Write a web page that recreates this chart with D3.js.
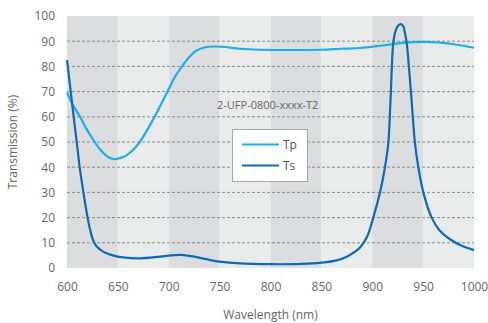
<!DOCTYPE html>
<html>
<head>
<meta charset="utf-8">
<script src="https://cdn.jsdelivr.net/npm/d3@7"></script>
<style>
  html, body { margin: 0; padding: 0; background: #fff; }
  svg { display: block; font-family: "Open Sans", sans-serif; }
</style>
</head>
<body>
<svg id="chart" width="488" height="323"></svg>
<script>
// Wavelength (nm) and transmission (%) for the two polarisations
const tpWave = [600, 606, 612.8, 619, 625.9, 632, 638, 643, 647, 652, 658, 664, 670, 676, 682, 688, 694, 700, 706, 713, 720, 727, 735, 745, 755, 770, 790, 820, 850, 870, 888, 910, 928, 950, 965, 980, 1000];
const tpVals = [69.6, 64.6, 60, 55.3, 50.8, 47.3, 44.8, 43.5, 43.2, 43.6, 44.6, 46.5, 49.2, 52.8, 57, 61.5, 66.2, 71, 75.8, 80, 83.6, 86.2, 87.5, 87.9, 87.7, 87, 86.6, 86.5, 86.6, 87, 87.3, 88.3, 89.2, 89.7, 89.5, 88.8, 87.4];

const tsWave = [600, 606, 610, 612.8, 615, 617.5, 620, 622.5, 625, 628, 632, 637, 645, 655, 671.7, 691.4, 705, 712, 720, 731, 740, 750, 770, 800, 830, 850, 865, 875, 882, 888, 895, 901, 907.6, 912.5, 915.8, 918, 920.7, 923, 925.5, 928, 930.5, 932, 933.8, 938, 942, 945.3, 950.2, 958.4, 966, 976.4, 988, 1000];
const tsVals = [82.5, 62, 48.5, 38.9, 33, 26.5, 20.5, 15.5, 11.8, 9.2, 7.5, 6.2, 5, 4.2, 3.8, 4.5, 5.1, 5.2, 4.8, 4, 3.2, 2.5, 1.8, 1.5, 1.6, 2.1, 3, 4.5, 6.2, 8.1, 12.5, 20, 30, 40, 49.7, 67, 89.4, 94.2, 96.2, 96.8, 96, 93.5, 89.4, 70, 49.5, 40, 30, 20, 15, 11.4, 8.8, 7.1];

const xTicks = [600, 650, 700, 750, 800, 850, 900, 950, 1000];
const yTicks = [0, 10, 20, 30, 40, 50, 60, 70, 80, 90, 100];
const seriesNames = ["Tp", "Ts"];
const seriesColors = ["#1cb0ea", "#0a6bb6"];
const productLabel = "2-UFP-0800-xxxx-T2";

const svg = d3.select("#chart");
const margin = { left: 67, right: 14, top: 16, bottom: 55 };
const W = 488, H = 323;

const x = d3.scaleLinear().domain([600, 1000]).range([margin.left, W - margin.right]);
const y = d3.scaleLinear().domain([0, 100]).range([H - margin.bottom, margin.top]);

// Alternating background bands, one per 50 nm
const bands = d3.pairs(xTicks);
svg.append("g").selectAll("rect").data(bands).join("rect")
  .attr("x", d => x(d[0]))
  .attr("y", y(100))
  .attr("width", d => x(d[1]) - x(d[0]))
  .attr("height", y(0) - y(100))
  .attr("fill", (d, i) => i % 2 === 0 ? "#dcdddf" : "#eaebeb");

// Dashed horizontal gridlines
svg.append("g").selectAll("line").data(yTicks.filter(v => v > 0 && v < 100)).join("line")
  .attr("x1", x(600)).attr("x2", x(1000))
  .attr("y1", d => y(d)).attr("y2", d => y(d))
  .attr("stroke", "#8a8a8a")
  .attr("stroke-width", 1)
  .attr("stroke-dasharray", "3,2");

// Axes (labels only, no domain line or tick marks)
const yAxis = svg.append("g")
  .attr("transform", `translate(${margin.left},0)`)
  .call(d3.axisLeft(y).tickValues(yTicks).tickFormat(d3.format("d")).tickSize(0).tickPadding(12));
const xAxis = svg.append("g")
  .attr("transform", `translate(0,${y(0)})`)
  .call(d3.axisBottom(x).tickValues(xTicks).tickFormat(d3.format("d")).tickSize(0).tickPadding(14));
[yAxis, xAxis].forEach(g => {
  g.select(".domain").remove();
  g.selectAll("text")
    .attr("fill", "#666")
    .style("font-size", "12px")
    .style("font-family", "'Open Sans', sans-serif");
});

// Axis titles
svg.append("text")
  .attr("x", (x(600) + x(1000)) / 2)
  .attr("y", 319)
  .attr("text-anchor", "middle")
  .attr("fill", "#666")
  .style("font-size", "12px")
  .text("Wavelength (nm)");
svg.append("text")
  .attr("transform", `translate(17,${(y(0) + y(100)) / 2}) rotate(-90)`)
  .attr("text-anchor", "middle")
  .attr("fill", "#666")
  .style("font-size", "12px")
  .text("Transmission (%)");

// Curves
const line = d3.line()
  .x(d => x(d[0]))
  .y(d => y(d[1]))
  .curve(d3.curveCatmullRom.alpha(0.5));
const series = [d3.zip(tpWave, tpVals), d3.zip(tsWave, tsVals)];
svg.append("g").selectAll("path").data(series).join("path")
  .attr("d", line)
  .attr("fill", "none")
  .attr("stroke", (d, i) => seriesColors[i])
  .attr("stroke-width", 2.2)
  .attr("stroke-linejoin", "round");

// Product label
svg.append("text")
  .attr("x", 217)
  .attr("y", 109)
  .attr("fill", "#666")
  .style("font-size", "11px")
  .text(productLabel);

// Legend
const lg = svg.append("g").attr("transform", "translate(232,129)");
lg.append("rect")
  .attr("x", 0.5).attr("y", 0.5)
  .attr("width", 75).attr("height", 52)
  .attr("fill", "#fff")
  .attr("stroke", "#a8a8a8");
seriesNames.forEach((name, i) => {
  const cy = 15.5 + i * 21;
  lg.append("line")
    .attr("x1", 10).attr("x2", 47)
    .attr("y1", cy).attr("y2", cy)
    .attr("stroke", seriesColors[i])
    .attr("stroke-width", 2.2);
  lg.append("text")
    .attr("x", 51).attr("y", cy + 4.5)
    .attr("fill", "#555")
    .style("font-size", "12px")
    .text(name);
});
</script>
</body>
</html>
